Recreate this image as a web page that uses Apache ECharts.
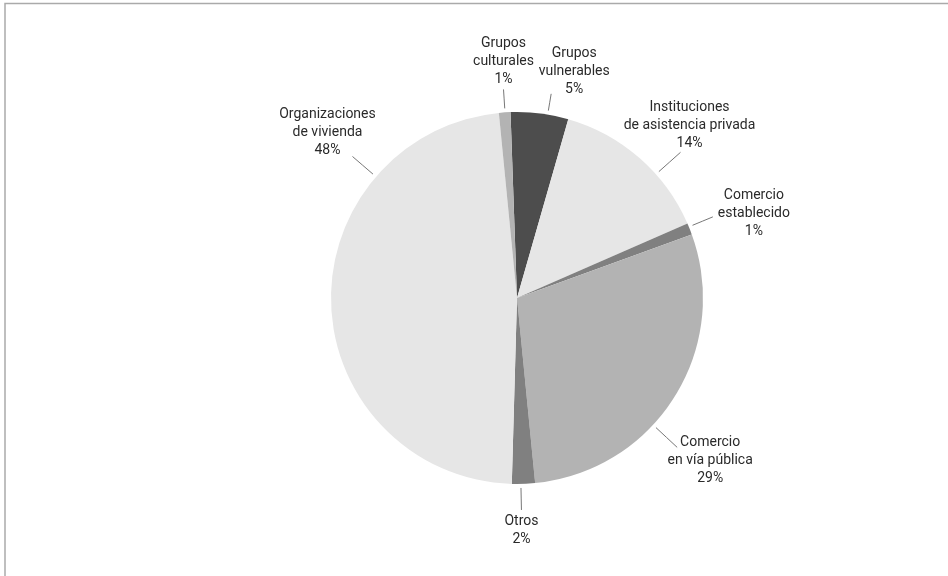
<!DOCTYPE html>
<html>
<head>
<meta charset="utf-8">
<script src="https://cdn.jsdelivr.net/npm/echarts@6/dist/echarts.min.js"></script>
<style>
html,body{margin:0;padding:0;background:#fff;}
#chart{width:948px;height:576px;}
</style>
</head>
<body>
<div id="chart"></div>
<script>
// Data (clockwise from top)
const categories = [
  'Grupos\nvulnerables',
  'Instituciones\nde asistencia privada',
  'Comercio\nestablecido',
  'Comercio\nen vía pública',
  'Otros',
  'Organizaciones\nde vivienda',
  'Grupos\nculturales'
];
const values = [5, 14, 1, 29, 2, 48, 1];
const colors = ['#4d4d4d', '#e6e6e6', '#808080', '#b3b3b3', '#808080', '#e6e6e6', '#b3b3b3'];

// Label placement (style): anchor angle (deg, CCW from east), line length, text offset from line end
const labelAngle = [80.5, 41.7, 22.5, -43, -88.8, 139.3, 93.7];
const labelLen = [17, 29, 22, 29, 22, 27, 19];
const labelOff = [[23, -22], [9, -27], [41, -3], [33, 13], [0, 21], [-25, -24], [0, -28]];

const CX = 517, CY = 298, R = 186;

const chart = echarts.init(document.getElementById('chart'));
chart.setOption({
  backgroundColor: '#fff',
  animation: false,
  graphic: [{
    type: 'polyline',
    shape: { points: [[5, 576], [5, 3.5], [948, 3.5]] },
    style: { stroke: '#aaaaaa', lineWidth: 1.5, fill: null }
  }],
  series: [{
    type: 'pie',
    center: [CX, CY],
    radius: R,
    startAngle: 92,
    clockwise: true,
    avoidLabelOverlap: false,
    data: categories.map((c, i) => ({ name: c, value: values[i], itemStyle: { color: colors[i] } })),
    itemStyle: { borderWidth: 0 },
    emphasis: { disabled: true },
    label: {
      show: true,
      position: 'outside',
      formatter: p => p.name + '\n' + p.value + '%',
      fontFamily: '"Liberation Sans Narrow", "Roboto", sans-serif',
      fontSize: 14,
      lineHeight: 18,
      color: '#2a2a2a',
      align: 'center'
    },
    labelLine: { show: true, length: 20, length2: 0, lineStyle: { color: '#777', width: 1 } },
    labelLayout: function (params) {
      const i = params.dataIndex;
      const a = labelAngle[i] * Math.PI / 180;
      const r1 = R + 4, r2 = R + 4 + labelLen[i];
      const x1 = CX + r1 * Math.cos(a), y1 = CY - r1 * Math.sin(a);
      const x2 = CX + r2 * Math.cos(a), y2 = CY - r2 * Math.sin(a);
      return {
        x: x2 + labelOff[i][0],
        y: y2 + labelOff[i][1],
        align: 'center',
        verticalAlign: 'middle',
        labelLinePoints: [[x1, y1], [(x1 + x2) / 2, (y1 + y2) / 2], [x2, y2]]
      };
    }
  }]
});
</script>
</body>
</html>
